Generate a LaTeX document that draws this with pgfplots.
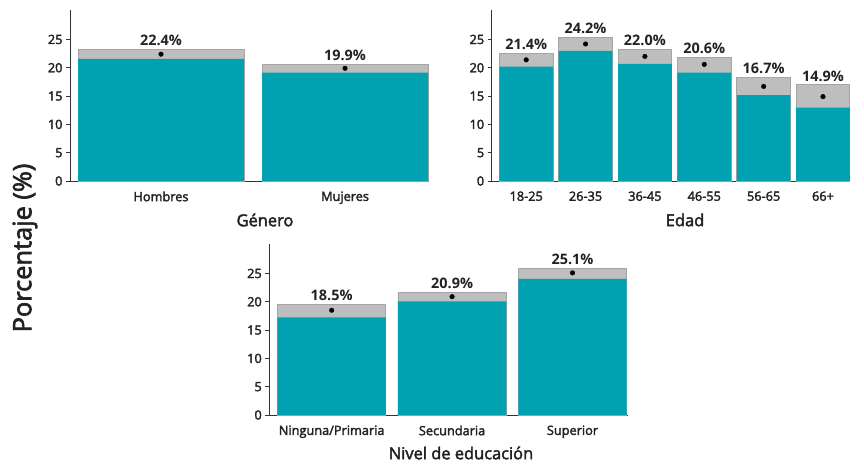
\documentclass[border=0pt]{standalone}
\usepackage{fontspec}
\setmainfont{Open Sans}
\newfontfamily\semib{Open Sans}[FakeBold=2.5]
\usepackage{pgfplots}
\usepackage{pgfplotstable}
\pgfplotsset{compat=1.18}
\definecolor{barteal}{RGB}{0,161,176}
\definecolor{cigrey}{RGB}{190,190,190}
\definecolor{cibord}{RGB}{165,165,165}
\definecolor{txt}{RGB}{34,34,34}

\pgfplotstableread{
x lo hi est
1 21.55 23.25 22.4
2 19.12 20.65 19.9
}\genero
\pgfplotstableread{
x lo hi est
1 20.18 22.53 21.4
2 23.00 25.35 24.2
3 20.70 23.24 22.0
4 19.12 21.88 20.6
5 15.18 18.29 16.7
6 12.94 17.00 14.9
}\edad
\pgfplotstableread{
x lo hi est
1 17.24 19.59 18.5
2 20.06 21.65 20.9
3 24.06 25.88 25.1
}\educ

\pgfplotsset{
  panel/.style={
    scale only axis, height=171bp,
    ymin=0, ymax=30.2,
    axis lines=left, axis line style={-, draw=black!80, line width=0.7bp},
    ytick={0,5,10,15,20,25},
    xtick=data,
    /pgf/number format/assume math mode=true,
    tick label style={font=\semib\fontsize{12.8}{14}\selectfont, text=txt},
    x tick style={draw=none},
    y tick style={draw=black!80, line width=0.7bp},
    major tick length=4bp,
    tick align=outside,
    xticklabel style={yshift=-3bp},
    clip=false,
  },
  cibar/.style={ybar, bar shift=0pt, bar width=#1, fill=cigrey, draw=cibord, line width=0.8bp},
  mainbar/.style={ybar, bar shift=0pt, bar width=#1, fill=barteal, draw=none},
  estdot/.style={only marks, mark=*, mark size=2.3bp, black},
  pctlab/.style={draw=none, mark=none, point meta=\thisrow{est},
    nodes near coords={\pgfmathprintnumber[fixed,fixed zerofill,precision=1,assume math mode=true]{\pgfplotspointmeta}\%},
    every node near coord/.append style={font=\bfseries\fontsize{14.5}{16}\selectfont, text=txt, anchor=south, yshift=0bp}},
}

\begin{document}
\begin{tikzpicture}
% panel 1: Genero
\begin{axis}[panel, at={(70bp,-181bp)}, anchor=south west, width=358bp,
  xmin=0.5054, xmax=2.451, xticklabels={Hombres,Mujeres}]
\addplot[cibar=0.902] table[x=x,y=hi]{\genero};
\addplot[mainbar=0.902] table[x=x,y=lo]{\genero};
\addplot[estdot] table[x=x,y=est]{\genero};
\addplot[pctlab] table[x=x,y=hi]{\genero};
\end{axis}
% panel 2: Edad
\begin{axis}[panel, at={(491.7bp,-181bp)}, anchor=south west, width=358.3bp,
  xmin=0.419, xmax=6.455, xticklabels={18-25,26-35,36-45,46-55,56-65,66+}]
\addplot[cibar=0.905] table[x=x,y=hi]{\edad};
\addplot[mainbar=0.905] table[x=x,y=lo]{\edad};
\addplot[estdot] table[x=x,y=est]{\edad};
\addplot[pctlab] table[x=x,y=hi]{\edad};
\end{axis}
% panel 3: Nivel de educacion
\begin{axis}[panel, at={(269.3bp,-415bp)}, anchor=south west, width=358.7bp,
  xmin=0.482, xmax=3.461, xticklabels={Ninguna/Primaria,Secundaria,Superior}]
\addplot[cibar=0.90] table[x=x,y=hi]{\educ};
\addplot[mainbar=0.90] table[x=x,y=lo]{\educ};
\addplot[estdot] table[x=x,y=est]{\educ};
\addplot[pctlab] table[x=x,y=hi]{\educ};
\end{axis}
% axis titles
\node[font=\semib\fontsize{16.5}{18}\selectfont, text=txt] at (265bp,-220bp) {Género};
\node[font=\semib\fontsize{16.5}{18}\selectfont, text=txt] at (685bp,-220bp) {Edad};
\node[font=\semib\fontsize{16.5}{18}\selectfont, text=txt] at (461bp,-453bp) {Nivel de educación};
\node[font=\semib\fontsize{25.5}{27}\selectfont, text=txt, rotate=90] at (25bp,-248bp) {Porcentaje (\%)};
\pgfresetboundingbox
\useasboundingbox (0,0) rectangle (864bp,-464bp);
\end{tikzpicture}
\end{document}
